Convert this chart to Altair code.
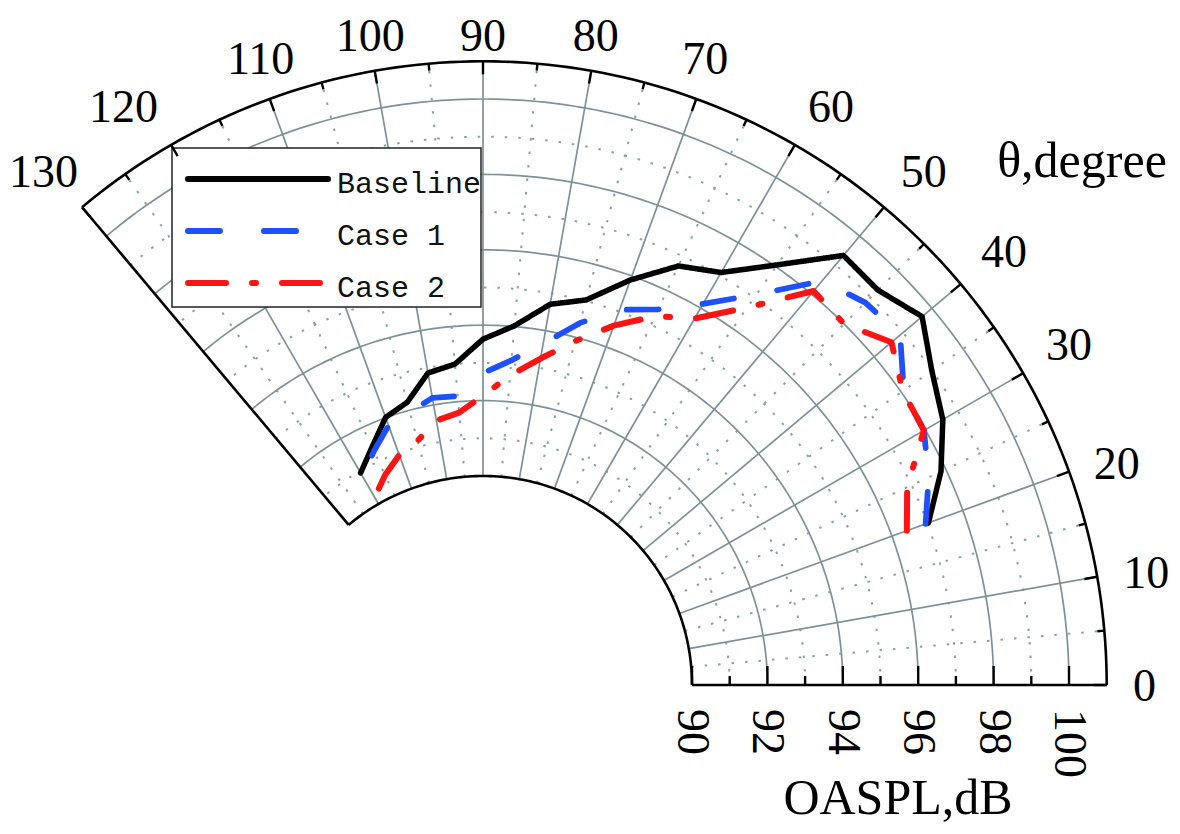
import altair as alt
import pandas as pd

# ---------------- data ----------------
theta = [20, 25, 30, 35, 40, 45, 50, 55, 60, 65, 70, 75, 80, 85, 90, 95, 100, 105, 110, 115, 120]
baseline = [97.03, 97.86, 98.54, 98.99, 99.66, 99.27, 99.33, 98.06, 97.09, 96.72, 95.89,
            95.03, 94.71, 94.02, 93.63, 93.00, 92.86, 92.22, 92.01, 91.42, 90.95]
case1 = [96.95, 97.50, 97.96, 98.08, 98.90, 98.80, 98.45, 97.10, 96.13, 95.45, 95.05,
         94.40, 93.65, 93.10, 92.73, 92.15, 92.19, 91.95, 91.78, 91.30, 90.85]
case2 = [96.42, 96.87, 97.96, 98.05, 98.60, 98.00, 98.10, 96.68, 95.68, 95.25, 94.60,
         93.90, 93.25, 92.70, 92.13, 91.71, 91.58, 91.16, 90.95, 90.60, 90.20]
series_names = ["Baseline", "Case 1", "Case 2"]
angle_ticks = [0, 10, 20, 30, 40, 50, 60, 70, 80, 90, 100, 110, 120, 130]
db_ticks = [90, 92, 94, 96, 98, 100]
theta_title = "θ,degree"
r_title = "OASPL,dB"

# ---------------- styles / geometry ----------------
colors = ["#000000", "#1f50ff", "#ff1414"]
dashes = [[1, 0], [32, 44], [38, 26, 4, 26]]
widths = [5.5, 6, 6]
W, H = 1164, 818
CX, CY = 475, 677              # pole inside the plot area (px)
R_IN, PX_PER_DB = 209.0, 37.7  # radius of the 90 dB circle, px per dB
DB_MIN, DB_MAX = 90, 101
A_MIN, A_MAX = 0, 130
R_OUT = R_IN + (DB_MAX - DB_MIN) * PX_PER_DB
GRID = "#7d9297"
DOT = "#8aa0a5"

xscale = alt.Scale(domain=[-CX, W - CX], nice=False, zero=False)
yscale = alt.Scale(domain=[CY - H, CY], nice=False, zero=False)


def X(f):
    return alt.X(f, type="quantitative", scale=xscale, axis=None)


def Y(f):
    return alt.Y(f, type="quantitative", scale=yscale, axis=None)


def rad(db):
    return f"({R_IN} + (({db}) - {DB_MIN}) * {PX_PER_DB})"


def cx(r, a):
    return f"{r} * cos(({a}) * PI / 180)"


def cy(r, a):
    return f"{r} * sin(({a}) * PI / 180)"


color = alt.Color("series:N", scale=alt.Scale(domain=series_names, range=colors), legend=None)
dash = alt.StrokeDash("series:N", scale=alt.Scale(domain=series_names, range=dashes), legend=None)
swidth = alt.StrokeWidth("series:N", scale=alt.Scale(domain=series_names, range=widths), legend=None)

# ---------------- grid ----------------
angles_fine = list(range(A_MIN, A_MAX + 1))


def arcs(levels):
    return pd.DataFrame([{"lvl": l, "a": a} for l in levels for a in angles_fine])


def arc_layer(levels, **mk):
    return alt.Chart(arcs(levels)).transform_calculate(
        x=cx(rad("datum.lvl"), "datum.a"), y=cy(rad("datum.lvl"), "datum.a")
    ).mark_line(**mk).encode(x=X("x"), y=Y("y"), detail="lvl:N", order="a:Q")


def radial_layer(angs, **mk):
    return alt.Chart(pd.DataFrame({"a": angs})).transform_calculate(
        x=cx(rad(DB_MIN), "datum.a"), y=cy(rad(DB_MIN), "datum.a"),
        x2=cx(rad(DB_MAX), "datum.a"), y2=cy(rad(DB_MAX), "datum.a"),
    ).mark_rule(**mk).encode(x=X("x"), y=Y("y"), x2="x2:Q", y2="y2:Q")


dot_arcs = arc_layer(list(range(91, 100, 2)), color=DOT, strokeWidth=2, strokeDash=[2.5, 11])
dot_rads = radial_layer(list(range(5, 130, 10)), color=DOT, strokeWidth=2, strokeDash=[2.5, 11])
sol_arcs = arc_layer(list(range(92, 101, 2)), color=GRID, strokeWidth=1.7)
sol_rads = radial_layer(list(range(10, 121, 10)), color=GRID, strokeWidth=1.7)
frame_arcs = arc_layer([DB_MIN, DB_MAX], color="black", strokeWidth=2.6)
frame_rads = radial_layer([A_MIN, A_MAX], color="black", strokeWidth=2.6)

outer_ticks = alt.Chart(pd.DataFrame({"a": list(range(A_MIN, A_MAX + 1, 5))})).transform_calculate(
    L="datum.a % 10 == 0 ? 13 : 7",
    x=cx(str(R_OUT), "datum.a"), y=cy(str(R_OUT), "datum.a"),
    x2=cx(f"({R_OUT} - datum.L)", "datum.a"), y2=cy(f"({R_OUT} - datum.L)", "datum.a"),
).mark_rule(color="black", strokeWidth=2.4).encode(x=X("x"), y=Y("y"), x2="x2:Q", y2="y2:Q")

base_ticks = alt.Chart(pd.DataFrame({"db": list(range(DB_MIN, DB_MAX))})).transform_calculate(
    x=rad("datum.db"), y="0", y2="datum.db % 2 == 0 ? 19 : 9"
).mark_rule(color="black", strokeWidth=2.4).encode(x=X("x"), y=Y("y"), y2="y2:Q")

# ---------------- labels ----------------
ang_labels = alt.Chart(pd.DataFrame({"a": angle_ticks})).transform_calculate(
    lab="toString(datum.a)",
    c="cos(datum.a * PI / 180)", s="sin(datum.a * PI / 180)",
    hw="11.5 * length(toString(datum.a))",
    fx="datum.c > 0.42 ? 1 : (datum.c < -0.42 ? -1 : 0)",
    fy="datum.s > 0.42 ? 1 : 0",
    x=f"clamp(650 * datum.c + datum.fx * datum.hw, {-CX} + datum.hw + 1, {W - CX} - datum.hw - 1)",
    y=f"min(650 * datum.s + datum.fy * 16, {CY} - 27)",
).mark_text(font="Liberation Serif", fontSize=46, align="center", baseline="middle", dy=2,
            color="black").encode(x=X("x"), y=Y("y"), text="lab:N")

db_labels = alt.Chart(pd.DataFrame({"db": db_ticks})).transform_calculate(
    lab="toString(datum.db)", x=rad("datum.db"), y="-24"
).mark_text(font="Liberation Serif", fontSize=46, align="left", baseline="middle", angle=90,
            color="black").encode(x=X("x"), y=Y("y"), text="lab:N")

titles_df = pd.DataFrame({"t": [theta_title, r_title], "k": [0, 1]})
t_theta = alt.Chart(titles_df).transform_filter("datum.k == 0").mark_text(
    font="Liberation Serif", fontSize=50, align="center", baseline="alphabetic", color="black"
).encode(x=alt.value(1074), y=alt.value(169), text="t:N")
t_r = alt.Chart(titles_df).transform_filter("datum.k == 1").mark_text(
    font="Liberation Serif", fontSize=50, align="center", baseline="alphabetic", color="black"
).encode(x=alt.value(890), y=alt.value(806), text="t:N")

# ---------------- data lines ----------------
df = pd.DataFrame([
    {"series": n, "theta": t, "db": v}
    for n, vals in zip(series_names, [baseline, case1, case2])
    for t, v in zip(theta, vals)
])
lines = alt.Chart(df).transform_calculate(
    x=cx(rad("datum.db"), "datum.theta"), y=cy(rad("datum.db"), "datum.theta")
).mark_line(strokeCap="round", strokeJoin="round").encode(
    x=X("x"), y=Y("y"), color=color, strokeDash=dash, strokeWidth=swidth, order="theta:Q"
)

# ---------------- legend ----------------
leg_df = pd.DataFrame({"series": series_names, "i": list(range(len(series_names)))})
leg_box = alt.Chart(pd.DataFrame({"k": [0]})).mark_rect(
    fill="white", stroke="#222222", strokeWidth=1.5
).encode(x=alt.value(164), x2=alt.value(473), y=alt.value(140), y2=alt.value(299))
leg_lines = alt.Chart(leg_df).transform_calculate(ly="171 + 52 * datum.i").mark_rule(
    strokeCap="round"
).encode(x=alt.value(180), x2=alt.value(320), y=alt.Y("ly:Q", scale=None),
         color=color, strokeDash=dash, strokeWidth=alt.value(6))
leg_text = alt.Chart(leg_df).transform_calculate(ly="171 + 52 * datum.i").mark_text(
    font="Liberation Mono", fontSize=30, align="left", baseline="middle", dy=5, color="#111111"
).encode(x=alt.value(329), y=alt.Y("ly:Q", scale=None), text="series:N")

chart = alt.layer(
    dot_arcs, dot_rads, sol_arcs, sol_rads, leg_box, frame_arcs, frame_rads,
    outer_ticks, base_ticks, lines, leg_lines, leg_text, ang_labels, db_labels, t_theta, t_r
).properties(
    width=W, height=H, padding=0, background="white",
    autosize=alt.AutoSizeParams(type="none"),
).configure_view(strokeWidth=0)

chart.save("out.html", embed_options={"renderer": "svg", "actions": False})
